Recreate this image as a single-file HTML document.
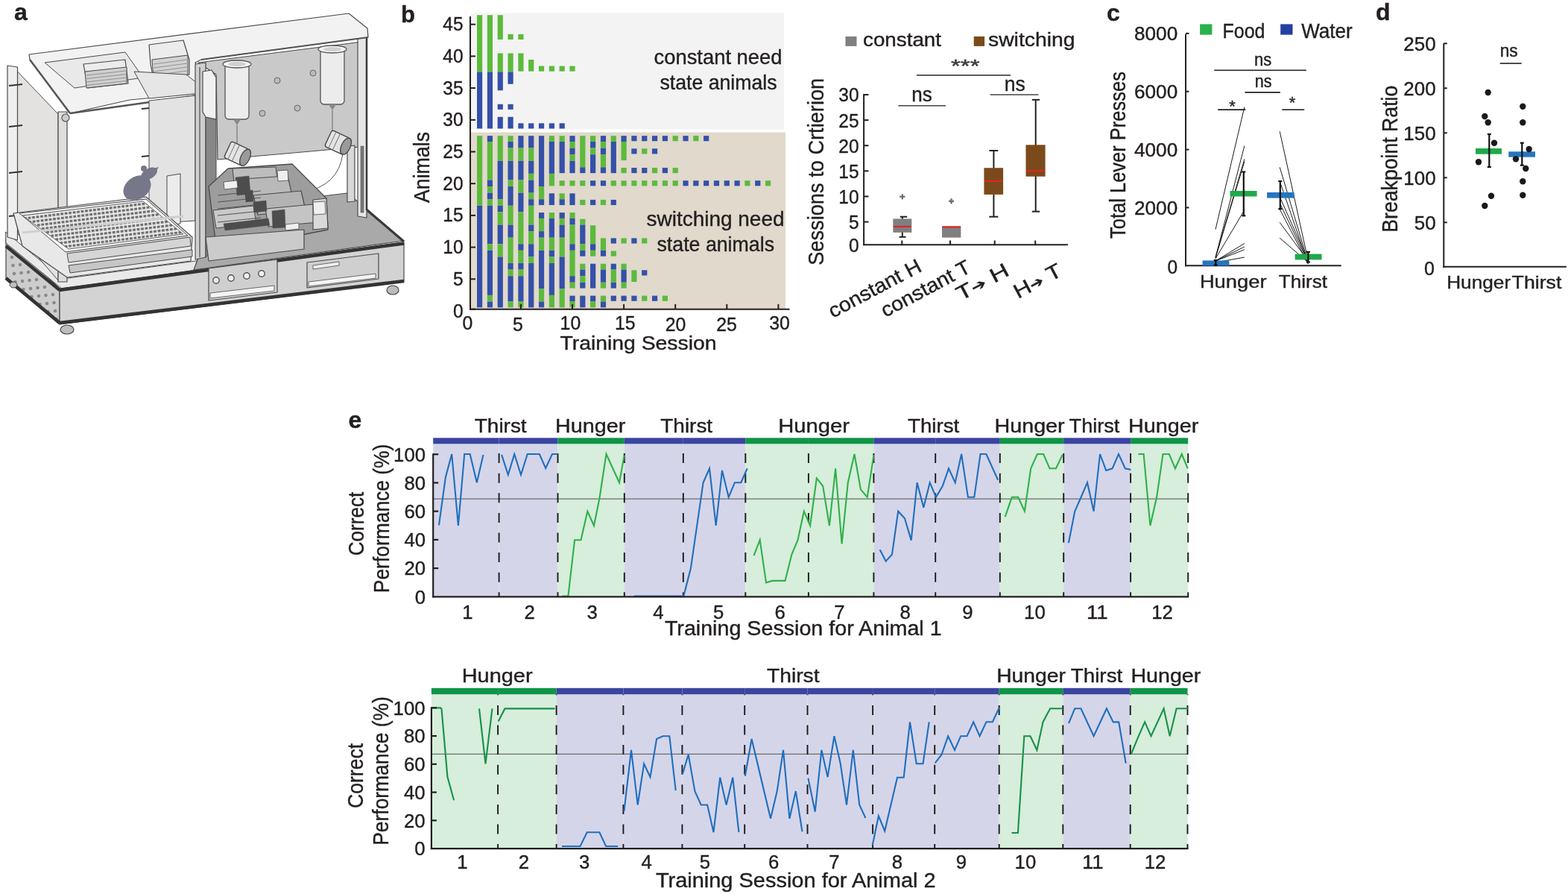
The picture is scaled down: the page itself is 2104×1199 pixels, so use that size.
<!DOCTYPE html>
<html><head><meta charset="utf-8"><title>Figure</title>
<style>html,body{margin:0;padding:0;background:#fff;overflow:hidden}svg{display:block}text{font-family:'Liberation Sans', Arial, sans-serif;stroke:#231f20;stroke-width:0.4px}</style>
</head><body>
<svg width="2104" height="1199" viewBox="0 0 2104 1199" font-family="'Liberation Sans', Arial, sans-serif" fill="#231f20">
<rect width="2104" height="1199" fill="#fff"/>
<text x="19" y="27.4" font-size="32" font-weight="bold">a</text>
<polygon points="8,318 80,387 80,435 8,375" fill="#cdcdcd" stroke="#4a4a4a" stroke-width="1.2" stroke-linejoin="round"/>
<circle cx="16" cy="345" r="2.3" fill="#8a8a8a"/>
<circle cx="17.5" cy="356" r="2.3" fill="#8a8a8a"/>
<circle cx="19" cy="367" r="2.3" fill="#8a8a8a"/>
<circle cx="20.5" cy="378" r="2.3" fill="#8a8a8a"/>
<circle cx="27" cy="355" r="2.3" fill="#8a8a8a"/>
<circle cx="28.5" cy="366" r="2.3" fill="#8a8a8a"/>
<circle cx="30" cy="377" r="2.3" fill="#8a8a8a"/>
<circle cx="31.5" cy="388" r="2.3" fill="#8a8a8a"/>
<circle cx="38" cy="365" r="2.3" fill="#8a8a8a"/>
<circle cx="39.5" cy="376" r="2.3" fill="#8a8a8a"/>
<circle cx="41" cy="387" r="2.3" fill="#8a8a8a"/>
<circle cx="42.5" cy="398" r="2.3" fill="#8a8a8a"/>
<circle cx="49" cy="375" r="2.3" fill="#8a8a8a"/>
<circle cx="50.5" cy="386" r="2.3" fill="#8a8a8a"/>
<circle cx="52" cy="397" r="2.3" fill="#8a8a8a"/>
<circle cx="53.5" cy="408" r="2.3" fill="#8a8a8a"/>
<circle cx="60" cy="385" r="2.3" fill="#8a8a8a"/>
<circle cx="61.5" cy="396" r="2.3" fill="#8a8a8a"/>
<circle cx="63" cy="407" r="2.3" fill="#8a8a8a"/>
<circle cx="64.5" cy="418" r="2.3" fill="#8a8a8a"/>
<circle cx="71" cy="395" r="2.3" fill="#8a8a8a"/>
<circle cx="72.5" cy="406" r="2.3" fill="#8a8a8a"/>
<circle cx="74" cy="417" r="2.3" fill="#8a8a8a"/>
<circle cx="75.5" cy="428" r="2.3" fill="#8a8a8a"/>
<polygon points="7.5,311 84,374 270,349 270,361 84,388 8,326" fill="#e9e9e9" stroke="#4a4a4a" stroke-width="1" stroke-linejoin="round"/>
<polygon points="80,387 542,325 542,378 80,435" fill="#d3d3d3" stroke="#4a4a4a" stroke-width="1.2" stroke-linejoin="round"/>
<line x1="8" y1="330" x2="80" y2="389" stroke="#333" stroke-width="4.5"/>
<line x1="80" y1="389" x2="542" y2="326.5" stroke="#333" stroke-width="4.5"/>
<line x1="8" y1="373" x2="80" y2="433" stroke="#333" stroke-width="4.5"/>
<line x1="80" y1="433" x2="542" y2="377" stroke="#333" stroke-width="4.5"/>
<polygon points="280,360 372,348 372,392 280,403" fill="#cfcfcf" stroke="#4a4a4a" stroke-width="1.2" stroke-linejoin="round"/>
<polygon points="282,393 368,383 368,390 282,400" fill="#f4f4f4" stroke="#4a4a4a" stroke-width="0.8" stroke-linejoin="round"/>
<circle cx="290" cy="376" r="4.2" fill="#f0f0f0" stroke="#555" stroke-width="1.4"/>
<circle cx="310" cy="373" r="4.2" fill="#f0f0f0" stroke="#555" stroke-width="1.4"/>
<circle cx="331" cy="370" r="4.2" fill="#f0f0f0" stroke="#555" stroke-width="1.4"/>
<circle cx="351" cy="367" r="4.2" fill="#f0f0f0" stroke="#555" stroke-width="1.4"/>
<polygon points="412,352 508,340 508,374 412,386" fill="#cfcfcf" stroke="#4a4a4a" stroke-width="1.2" stroke-linejoin="round"/>
<polygon points="414,378 504,367 504,373 414,384" fill="#f4f4f4" stroke="#4a4a4a" stroke-width="0.8" stroke-linejoin="round"/>
<polygon points="420,356 455,351 455,356 420,361" fill="#eeeeee" stroke="#4a4a4a" stroke-width="0.8" stroke-linejoin="round"/>
<ellipse cx="90" cy="442" rx="9" ry="6" fill="#bdbdbd" stroke="#444" stroke-width="1.2"/>
<ellipse cx="527" cy="389" rx="8" ry="6" fill="#bdbdbd" stroke="#444" stroke-width="1.2"/>
<ellipse cx="18" cy="382" rx="5" ry="4" fill="#bdbdbd" stroke="#444" stroke-width="1"/>
<polygon points="276,318 408,266 466,259 492,280 542,323 260,362" fill="#a9a9a9" stroke="#4a4a4a" stroke-width="1.2" stroke-linejoin="round"/>
<line x1="491.5" y1="281" x2="542" y2="324" stroke="#3a3a3a" stroke-width="3"/>
<polygon points="266,84 486,56 484,197 292,214 290,100" fill="#c9c9c9" stroke="#4a4a4a" stroke-width="1.2" stroke-linejoin="round"/>
<polygon points="480,50 492,48 492,292 480,290" fill="#e6e6e6" stroke="#4a4a4a" stroke-width="1.2" stroke-linejoin="round"/>
<polygon points="466,196 476,195 476,270 466,271" fill="#d8d8d8" stroke="#4a4a4a" stroke-width="1.2" stroke-linejoin="round"/>
<polygon points="484,196 488,196 488,285 484,285" fill="#777" stroke="#4a4a4a" stroke-width="0.5" stroke-linejoin="round"/>
<line x1="492" y1="50" x2="492" y2="282" stroke="#3a3a3a" stroke-width="2.5"/>
<rect x="302" y="84" width="32" height="76" rx="5" fill="#ececec" stroke="#555" stroke-width="1.3"/>
<ellipse cx="318.0" cy="86" rx="19.0" ry="5" fill="#f4f4f4" stroke="#555" stroke-width="1.3"/>
<ellipse cx="318.0" cy="86" rx="12.0" ry="3" fill="#d0d0d0"/>
<path d="M313.0,160 L318.0,168 L323.0,160 Z" fill="#888"/>
<rect x="430" y="64" width="32" height="76" rx="5" fill="#ececec" stroke="#555" stroke-width="1.3"/>
<ellipse cx="446.0" cy="66" rx="19.0" ry="5" fill="#f4f4f4" stroke="#555" stroke-width="1.3"/>
<ellipse cx="446.0" cy="66" rx="12.0" ry="3" fill="#d0d0d0"/>
<path d="M441.0,140 L446.0,148 L451.0,140 Z" fill="#888"/>
<line x1="318" y1="168" x2="318" y2="194" stroke="#666" stroke-width="1"/>
<line x1="446" y1="148" x2="446" y2="178" stroke="#666" stroke-width="1"/>
<g transform="translate(320,207) rotate(25)"><rect x="-16" y="-12" width="26" height="24" rx="3" fill="#e4e4e4" stroke="#444" stroke-width="1.3"/><ellipse cx="10" cy="0" rx="6" ry="12" fill="#9a9a9a" stroke="#444" stroke-width="1.3"/><line x1="-10" y1="-12" x2="-10" y2="12" stroke="#777" stroke-width="1"/><line x1="-4" y1="-12" x2="-4" y2="12" stroke="#777" stroke-width="1"/></g>
<g transform="translate(455,192) rotate(25)"><rect x="-16" y="-12" width="26" height="24" rx="3" fill="#e4e4e4" stroke="#444" stroke-width="1.3"/><ellipse cx="10" cy="0" rx="6" ry="12" fill="#9a9a9a" stroke="#444" stroke-width="1.3"/><line x1="-10" y1="-12" x2="-10" y2="12" stroke="#777" stroke-width="1"/><line x1="-4" y1="-12" x2="-4" y2="12" stroke="#777" stroke-width="1"/></g>
<path d="M460,205 Q455,250 405,258" fill="none" stroke="#555" stroke-width="1"/>
<circle cx="352" cy="152" r="4" fill="#bbb" stroke="#666" stroke-width="1"/>
<circle cx="399" cy="145" r="4" fill="#bbb" stroke="#666" stroke-width="1"/>
<circle cx="420" cy="98" r="4" fill="#bbb" stroke="#666" stroke-width="1"/>
<circle cx="372" cy="108" r="4" fill="#bbb" stroke="#666" stroke-width="1"/>
<polygon points="39,73 468,18 493,38 494,50 270,80 262,84 280,124 174,134 94,152 40,80" fill="#f2f2f2" stroke="#4a4a4a" stroke-width="1.2" stroke-linejoin="round"/>
<line x1="40" y1="80" x2="94" y2="152" stroke="#555" stroke-width="2.5"/>
<line x1="94" y1="152" x2="280" y2="126" stroke="#555" stroke-width="2.5"/>
<line x1="270" y1="80" x2="494" y2="50" stroke="#555" stroke-width="2.2"/>
<polygon points="60,84 168,70 192,104 100,118" fill="#e9e9e9" stroke="#4a4a4a" stroke-width="1" stroke-linejoin="round"/>
<polygon points="112,86 168,80 172,112 118,118" fill="#ececec" stroke="#4a4a4a" stroke-width="1.2" stroke-linejoin="round"/>
<polygon points="114,96 170,90 170,112 116,118" fill="#cfcfcf" stroke="#4a4a4a" stroke-width="1" stroke-linejoin="round"/>
<line x1="116" y1="101" x2="169" y2="95" stroke="#8a8a8a" stroke-width="0.9"/>
<line x1="116" y1="105.5" x2="169" y2="99.5" stroke="#8a8a8a" stroke-width="0.9"/>
<line x1="116" y1="110" x2="169" y2="104" stroke="#8a8a8a" stroke-width="0.9"/>
<line x1="116" y1="114.5" x2="169" y2="108.5" stroke="#8a8a8a" stroke-width="0.9"/>
<polygon points="200,60 246,54 254,80 254,100 206,106 202,86" fill="#ececec" stroke="#4a4a4a" stroke-width="1.2" stroke-linejoin="round"/>
<polygon points="204,80 252,74 252,100 206,106" fill="#d2d2d2" stroke="#4a4a4a" stroke-width="1" stroke-linejoin="round"/>
<line x1="206" y1="86" x2="251" y2="80" stroke="#8a8a8a" stroke-width="0.9"/>
<line x1="206" y1="91" x2="251" y2="85" stroke="#8a8a8a" stroke-width="0.9"/>
<line x1="206" y1="96" x2="251" y2="90" stroke="#8a8a8a" stroke-width="0.9"/>
<line x1="206" y1="101" x2="251" y2="95" stroke="#8a8a8a" stroke-width="0.9"/>
<polygon points="180,96 250,100 280,124 200,132" fill="#e6e6e6" stroke="#4a4a4a" stroke-width="1" stroke-linejoin="round"/>
<polygon points="23.5,96 78,153 78,376 23.5,313" fill="#e4e2e0" stroke="#4a4a4a" stroke-width="1" stroke-linejoin="round"/>
<polygon points="10,88 23.5,90 23.5,322 10,318" fill="#efefef" stroke="#4a4a4a" stroke-width="1.2" stroke-linejoin="round"/>
<polygon points="78,150 90,150 90,378 78,378" fill="#dedede" stroke="#4a4a4a" stroke-width="1.2" stroke-linejoin="round"/>
<circle cx="88" cy="158" r="5" fill="#ccc" stroke="#555" stroke-width="1.2"/>
<line x1="12" y1="115" x2="30" y2="113" stroke="#333" stroke-width="2"/>
<line x1="12" y1="170" x2="30" y2="168" stroke="#333" stroke-width="2"/>
<line x1="12" y1="232" x2="30" y2="230" stroke="#333" stroke-width="2"/>
<line x1="12" y1="290" x2="30" y2="288" stroke="#333" stroke-width="2"/>
<polygon points="200,135 262,128 262,296 200,300" fill="#e3e3e3" stroke="#4a4a4a" stroke-width="1" stroke-linejoin="round"/>
<polygon points="262,86 276,84 276,345 262,348" fill="#cfcfcf" stroke="#4a4a4a" stroke-width="1.2" stroke-linejoin="round"/>
<polygon points="276,157 290,160 290,330 276,345" fill="#878787" stroke="#4a4a4a" stroke-width="1" stroke-linejoin="round"/>
<polygon points="272,96 284,94 290,104 290,160 276,157 272,150" fill="#f0f0f0" stroke="#4a4a4a" stroke-width="1.2" stroke-linejoin="round"/>
<line x1="268" y1="90" x2="268" y2="345" stroke="#666" stroke-width="1.5"/>
<polygon points="224,236 242,233 242,300 224,302" fill="#ececec" stroke="#4a4a4a" stroke-width="1" stroke-linejoin="round"/>
<line x1="190" y1="146" x2="200" y2="145" stroke="#333" stroke-width="2"/>
<line x1="190" y1="210" x2="200" y2="209" stroke="#333" stroke-width="2"/>
<polygon points="306,226 392,220 438,266 440,308 390,318 290,330 280,250" fill="#9d9d9d" stroke="#4a4a4a" stroke-width="1.3" stroke-linejoin="round"/>
<polygon points="312,226 370,224 372,240 314,244" fill="#bdbdbd" stroke="#4a4a4a" stroke-width="1" stroke-linejoin="round"/>
<polygon points="326,240 386,236 392,262 330,266" fill="#b9b9b9" stroke="#4a4a4a" stroke-width="1.2" stroke-linejoin="round"/>
<polygon points="340,262 404,256 410,282 346,288" fill="#b3b3b3" stroke="#4a4a4a" stroke-width="1.2" stroke-linejoin="round"/>
<polygon points="356,280 420,274 428,298 360,304" fill="#c4c4c4" stroke="#4a4a4a" stroke-width="1.2" stroke-linejoin="round"/>
<polygon points="420,268 438,266 440,306 420,308" fill="#d9d9d9" stroke="#4a4a4a" stroke-width="1.2" stroke-linejoin="round"/>
<polygon points="286,282 340,276 344,300 290,306" fill="#c9c9c9" stroke="#4a4a4a" stroke-width="1" stroke-linejoin="round"/>
<line x1="292" y1="262" x2="350" y2="256" stroke="#555" stroke-width="1.2"/>
<line x1="292" y1="271" x2="350" y2="265" stroke="#555" stroke-width="1.2"/>
<line x1="292" y1="280" x2="350" y2="274" stroke="#555" stroke-width="1.2"/>
<line x1="292" y1="289" x2="350" y2="283" stroke="#555" stroke-width="1.2"/>
<line x1="292" y1="298" x2="350" y2="292" stroke="#555" stroke-width="1.2"/>
<polygon points="316,238 334,236 336,260 318,262" fill="#4d4d4d" stroke="#4a4a4a" stroke-width="0.5" stroke-linejoin="round"/>
<polygon points="329,256 339,255 340,270 330,271" fill="#4d4d4d" stroke="#4a4a4a" stroke-width="0.5" stroke-linejoin="round"/>
<polygon points="340,271 357,269 358,283 341,285" fill="#4d4d4d" stroke="#4a4a4a" stroke-width="0.5" stroke-linejoin="round"/>
<polygon points="365,283 382,281 383,305 366,306" fill="#4d4d4d" stroke="#4a4a4a" stroke-width="0.5" stroke-linejoin="round"/>
<polygon points="300,300 360,293 362,302 302,309" fill="#4d4d4d" stroke="#4a4a4a" stroke-width="0.5" stroke-linejoin="round"/>
<polygon points="372,229 386,228 387,242 373,243" fill="#efefef" stroke="#4a4a4a" stroke-width="0.8" stroke-linejoin="round"/>
<polygon points="420,271 436,270 437,287 421,288" fill="#efefef" stroke="#4a4a4a" stroke-width="0.8" stroke-linejoin="round"/>
<polygon points="383,301 401,299 401,307 383,309" fill="#efefef" stroke="#4a4a4a" stroke-width="0.8" stroke-linejoin="round"/>
<polygon points="300,244 318,242 319,252 301,254" fill="#efefef" stroke="#4a4a4a" stroke-width="0.8" stroke-linejoin="round"/>
<polygon points="276,318 408,308 408,334 280,350" fill="#cbcbcb" stroke="#4a4a4a" stroke-width="1.2" stroke-linejoin="round"/>
<polygon points="18,286 196,264 258,318 256,350 90,372 30,330" fill="#e8e8e8" stroke="#4a4a4a" stroke-width="1.2" stroke-linejoin="round"/>
<polygon points="26,286 196,267 252,316 88,338" fill="#f4f4f4" stroke="#4a4a4a" stroke-width="1" stroke-linejoin="round"/>
<defs><pattern id="grid" width="5.5" height="5.5" patternUnits="userSpaceOnUse" patternTransform="rotate(-7)"><rect width="5.5" height="5.5" fill="#ececec"/><rect x="1.6" y="1.8" width="3.9" height="3.2" fill="#6e6e6e"/></pattern></defs>
<polygon points="30,289 192,270 246,314 92,334" fill="url(#grid)" stroke="#4a4a4a" stroke-width="0.8" stroke-linejoin="round"/>
<line x1="30" y1="312" x2="246" y2="290" stroke="#cfcfcf" stroke-width="3"/>
<polygon points="90,340 255,318 256,330 92,352" fill="#d5d5d5" stroke="#4a4a4a" stroke-width="1" stroke-linejoin="round"/>
<polygon points="92,356 258,335 258,344 94,366" fill="#c6c6c6" stroke="#4a4a4a" stroke-width="1" stroke-linejoin="round"/>
<g fill="#77778a"><ellipse cx="184" cy="252" rx="20" ry="15" transform="rotate(-35 184 252)"/><ellipse cx="200" cy="233" rx="12" ry="7" transform="rotate(-30 200 233)"/><ellipse cx="193" cy="226" rx="4" ry="4"/><path d="M205,226 L213,224 L208,232 Z"/></g>
<rect x="632" y="17.6" width="420" height="155.8" fill="#f3f3f3"/>
<rect x="632" y="177.5" width="422" height="237" fill="#e0d9cc"/>
<rect x="640.02" y="20.24" width="7.2" height="76.12" fill="#5cba3c"/>
<rect x="640.02" y="96.35" width="7.2" height="76.12" fill="#3550a8"/>
<rect x="640.02" y="182.13" width="7.2" height="93.64" fill="#5cba3c"/>
<rect x="640.02" y="275.81" width="7.2" height="136.54" fill="#3550a8"/>
<rect x="653.84" y="20.24" width="7.2" height="76.12" fill="#5cba3c"/>
<rect x="653.84" y="96.35" width="7.2" height="76.12" fill="#3550a8"/>
<rect x="653.84" y="182.13" width="7.2" height="7.84" fill="#3550a8"/>
<rect x="653.84" y="190.01" width="7.2" height="51.44" fill="#5cba3c"/>
<rect x="653.84" y="241.49" width="7.2" height="8.54" fill="#3550a8"/>
<rect x="653.84" y="250.07" width="7.2" height="8.54" fill="#5cba3c"/>
<rect x="653.84" y="258.65" width="7.2" height="8.54" fill="#3550a8"/>
<rect x="653.84" y="267.23" width="7.2" height="8.54" fill="#5cba3c"/>
<rect x="653.84" y="275.81" width="7.2" height="51.44" fill="#3550a8"/>
<rect x="653.84" y="327.29" width="7.2" height="8.54" fill="#5cba3c"/>
<rect x="653.84" y="335.87" width="7.2" height="60.02" fill="#3550a8"/>
<rect x="653.84" y="395.93" width="7.2" height="8.54" fill="#5cba3c"/>
<rect x="653.84" y="404.51" width="7.2" height="7.84" fill="#3550a8"/>
<rect x="667.66" y="20.24" width="7.2" height="32.74" fill="#5cba3c"/>
<rect x="667.66" y="71.45" width="7.2" height="24.91" fill="#5cba3c"/>
<rect x="667.66" y="96.35" width="7.2" height="24.91" fill="#3550a8"/>
<rect x="667.66" y="139.72" width="7.2" height="7.14" fill="#3550a8"/>
<rect x="667.66" y="156.79" width="7.2" height="15.68" fill="#3550a8"/>
<rect x="667.66" y="182.13" width="7.2" height="33.58" fill="#5cba3c"/>
<rect x="667.66" y="215.75" width="7.2" height="51.44" fill="#3550a8"/>
<rect x="667.66" y="267.23" width="7.2" height="8.54" fill="#5cba3c"/>
<rect x="667.66" y="275.81" width="7.2" height="8.54" fill="#3550a8"/>
<rect x="667.66" y="284.39" width="7.2" height="17.12" fill="#5cba3c"/>
<rect x="667.66" y="301.55" width="7.2" height="25.7" fill="#3550a8"/>
<rect x="667.66" y="327.29" width="7.2" height="17.12" fill="#5cba3c"/>
<rect x="667.66" y="344.45" width="7.2" height="67.9" fill="#3550a8"/>
<rect x="681.48" y="45.84" width="7.2" height="7.14" fill="#5cba3c"/>
<rect x="681.48" y="71.45" width="7.2" height="24.91" fill="#5cba3c"/>
<rect x="681.48" y="96.35" width="7.2" height="16.37" fill="#3550a8"/>
<rect x="681.48" y="139.72" width="7.2" height="7.14" fill="#3550a8"/>
<rect x="681.48" y="156.79" width="7.2" height="15.68" fill="#3550a8"/>
<rect x="681.48" y="182.13" width="7.2" height="7.84" fill="#5cba3c"/>
<rect x="681.48" y="190.01" width="7.2" height="8.54" fill="#3550a8"/>
<rect x="681.48" y="198.59" width="7.2" height="17.12" fill="#5cba3c"/>
<rect x="681.48" y="215.75" width="7.2" height="25.7" fill="#3550a8"/>
<rect x="681.48" y="241.49" width="7.2" height="8.54" fill="#5cba3c"/>
<rect x="681.48" y="250.07" width="7.2" height="25.7" fill="#3550a8"/>
<rect x="681.48" y="275.81" width="7.2" height="25.7" fill="#5cba3c"/>
<rect x="681.48" y="301.55" width="7.2" height="17.12" fill="#3550a8"/>
<rect x="681.48" y="318.71" width="7.2" height="34.28" fill="#5cba3c"/>
<rect x="681.48" y="353.03" width="7.2" height="8.54" fill="#3550a8"/>
<rect x="681.48" y="361.61" width="7.2" height="8.54" fill="#5cba3c"/>
<rect x="681.48" y="370.19" width="7.2" height="34.28" fill="#3550a8"/>
<rect x="681.48" y="404.51" width="7.2" height="7.84" fill="#5cba3c"/>
<rect x="695.3" y="45.84" width="7.2" height="7.14" fill="#5cba3c"/>
<rect x="695.3" y="71.45" width="7.2" height="24.21" fill="#5cba3c"/>
<rect x="695.3" y="165.33" width="7.2" height="7.14" fill="#3550a8"/>
<rect x="695.3" y="182.13" width="7.2" height="16.42" fill="#3550a8"/>
<rect x="695.3" y="198.59" width="7.2" height="17.12" fill="#5cba3c"/>
<rect x="695.3" y="215.75" width="7.2" height="25.7" fill="#3550a8"/>
<rect x="695.3" y="241.49" width="7.2" height="17.12" fill="#5cba3c"/>
<rect x="695.3" y="258.65" width="7.2" height="25.7" fill="#3550a8"/>
<rect x="695.3" y="284.39" width="7.2" height="42.86" fill="#5cba3c"/>
<rect x="695.3" y="327.29" width="7.2" height="8.54" fill="#3550a8"/>
<rect x="695.3" y="335.87" width="7.2" height="17.12" fill="#5cba3c"/>
<rect x="695.3" y="353.03" width="7.2" height="8.54" fill="#3550a8"/>
<rect x="695.3" y="361.61" width="7.2" height="8.54" fill="#5cba3c"/>
<rect x="695.3" y="370.19" width="7.2" height="34.28" fill="#3550a8"/>
<rect x="695.3" y="404.51" width="7.2" height="7.84" fill="#5cba3c"/>
<rect x="709.12" y="79.98" width="7.2" height="15.67" fill="#5cba3c"/>
<rect x="709.12" y="165.33" width="7.2" height="7.14" fill="#3550a8"/>
<rect x="709.12" y="182.13" width="7.2" height="16.42" fill="#3550a8"/>
<rect x="709.12" y="198.59" width="7.2" height="17.12" fill="#5cba3c"/>
<rect x="709.12" y="215.75" width="7.2" height="17.12" fill="#3550a8"/>
<rect x="709.12" y="232.91" width="7.2" height="8.54" fill="#5cba3c"/>
<rect x="709.12" y="241.49" width="7.2" height="17.12" fill="#3550a8"/>
<rect x="709.12" y="258.65" width="7.2" height="8.54" fill="#5cba3c"/>
<rect x="709.12" y="267.23" width="7.2" height="8.54" fill="#3550a8"/>
<rect x="709.12" y="275.81" width="7.2" height="25.7" fill="#5cba3c"/>
<rect x="709.12" y="301.55" width="7.2" height="8.54" fill="#3550a8"/>
<rect x="709.12" y="310.13" width="7.2" height="17.12" fill="#5cba3c"/>
<rect x="709.12" y="327.29" width="7.2" height="17.12" fill="#3550a8"/>
<rect x="709.12" y="344.45" width="7.2" height="8.54" fill="#5cba3c"/>
<rect x="709.12" y="353.03" width="7.2" height="59.32" fill="#3550a8"/>
<rect x="722.94" y="88.52" width="7.2" height="7.14" fill="#5cba3c"/>
<rect x="722.94" y="165.33" width="7.2" height="7.14" fill="#3550a8"/>
<rect x="722.94" y="182.13" width="7.2" height="67.9" fill="#3550a8"/>
<rect x="722.94" y="250.07" width="7.2" height="17.12" fill="#5cba3c"/>
<rect x="722.94" y="267.23" width="7.2" height="7.84" fill="#3550a8"/>
<rect x="722.94" y="285.09" width="7.2" height="7.84" fill="#3550a8"/>
<rect x="722.94" y="292.97" width="7.2" height="17.12" fill="#5cba3c"/>
<rect x="722.94" y="310.13" width="7.2" height="8.54" fill="#3550a8"/>
<rect x="722.94" y="318.71" width="7.2" height="17.12" fill="#5cba3c"/>
<rect x="722.94" y="335.87" width="7.2" height="51.44" fill="#3550a8"/>
<rect x="722.94" y="387.35" width="7.2" height="17.12" fill="#5cba3c"/>
<rect x="722.94" y="404.51" width="7.2" height="7.84" fill="#3550a8"/>
<rect x="736.76" y="88.52" width="7.2" height="7.14" fill="#5cba3c"/>
<rect x="736.76" y="165.33" width="7.2" height="7.14" fill="#3550a8"/>
<rect x="736.76" y="182.13" width="7.2" height="7.84" fill="#5cba3c"/>
<rect x="736.76" y="190.01" width="7.2" height="42.86" fill="#3550a8"/>
<rect x="736.76" y="232.91" width="7.2" height="16.42" fill="#5cba3c"/>
<rect x="736.76" y="259.35" width="7.2" height="15.72" fill="#3550a8"/>
<rect x="736.76" y="285.09" width="7.2" height="7.84" fill="#5cba3c"/>
<rect x="736.76" y="292.97" width="7.2" height="25.7" fill="#3550a8"/>
<rect x="736.76" y="318.71" width="7.2" height="17.12" fill="#5cba3c"/>
<rect x="736.76" y="335.87" width="7.2" height="8.54" fill="#3550a8"/>
<rect x="736.76" y="344.45" width="7.2" height="8.54" fill="#5cba3c"/>
<rect x="736.76" y="353.03" width="7.2" height="42.86" fill="#3550a8"/>
<rect x="736.76" y="395.93" width="7.2" height="16.42" fill="#5cba3c"/>
<rect x="750.58" y="88.52" width="7.2" height="7.14" fill="#5cba3c"/>
<rect x="750.58" y="165.33" width="7.2" height="7.14" fill="#3550a8"/>
<rect x="750.58" y="182.13" width="7.2" height="7.84" fill="#5cba3c"/>
<rect x="750.58" y="190.01" width="7.2" height="42.16" fill="#3550a8"/>
<rect x="750.58" y="242.19" width="7.2" height="7.14" fill="#5cba3c"/>
<rect x="750.58" y="259.35" width="7.2" height="7.84" fill="#5cba3c"/>
<rect x="750.58" y="267.23" width="7.2" height="7.84" fill="#3550a8"/>
<rect x="750.58" y="285.09" width="7.2" height="7.84" fill="#3550a8"/>
<rect x="750.58" y="292.97" width="7.2" height="8.54" fill="#5cba3c"/>
<rect x="750.58" y="301.55" width="7.2" height="17.12" fill="#3550a8"/>
<rect x="750.58" y="318.71" width="7.2" height="25.7" fill="#5cba3c"/>
<rect x="750.58" y="344.45" width="7.2" height="42.86" fill="#3550a8"/>
<rect x="750.58" y="387.35" width="7.2" height="25" fill="#5cba3c"/>
<rect x="764.4" y="88.52" width="7.2" height="7.14" fill="#5cba3c"/>
<rect x="764.4" y="182.13" width="7.2" height="7.84" fill="#3550a8"/>
<rect x="764.4" y="190.01" width="7.2" height="8.54" fill="#5cba3c"/>
<rect x="764.4" y="198.59" width="7.2" height="8.54" fill="#3550a8"/>
<rect x="764.4" y="207.17" width="7.2" height="8.54" fill="#5cba3c"/>
<rect x="764.4" y="215.75" width="7.2" height="16.42" fill="#3550a8"/>
<rect x="764.4" y="242.19" width="7.2" height="7.14" fill="#5cba3c"/>
<rect x="764.4" y="259.35" width="7.2" height="15.72" fill="#3550a8"/>
<rect x="764.4" y="285.09" width="7.2" height="7.84" fill="#5cba3c"/>
<rect x="764.4" y="292.97" width="7.2" height="8.54" fill="#3550a8"/>
<rect x="764.4" y="301.55" width="7.2" height="25.7" fill="#5cba3c"/>
<rect x="764.4" y="327.29" width="7.2" height="8.54" fill="#3550a8"/>
<rect x="764.4" y="335.87" width="7.2" height="34.28" fill="#5cba3c"/>
<rect x="764.4" y="370.19" width="7.2" height="8.54" fill="#3550a8"/>
<rect x="764.4" y="378.77" width="7.2" height="7.84" fill="#5cba3c"/>
<rect x="764.4" y="396.63" width="7.2" height="7.84" fill="#3550a8"/>
<rect x="764.4" y="404.51" width="7.2" height="7.84" fill="#5cba3c"/>
<rect x="778.22" y="182.13" width="7.2" height="42.16" fill="#5cba3c"/>
<rect x="778.22" y="224.33" width="7.2" height="7.84" fill="#3550a8"/>
<rect x="778.22" y="242.19" width="7.2" height="7.14" fill="#5cba3c"/>
<rect x="778.22" y="267.93" width="7.2" height="7.14" fill="#5cba3c"/>
<rect x="778.22" y="293.67" width="7.2" height="7.84" fill="#5cba3c"/>
<rect x="778.22" y="301.55" width="7.2" height="25.7" fill="#3550a8"/>
<rect x="778.22" y="327.29" width="7.2" height="8.54" fill="#5cba3c"/>
<rect x="778.22" y="335.87" width="7.2" height="7.84" fill="#3550a8"/>
<rect x="778.22" y="353.73" width="7.2" height="7.84" fill="#5cba3c"/>
<rect x="778.22" y="361.61" width="7.2" height="8.54" fill="#3550a8"/>
<rect x="778.22" y="370.19" width="7.2" height="8.54" fill="#5cba3c"/>
<rect x="778.22" y="378.77" width="7.2" height="7.84" fill="#3550a8"/>
<rect x="778.22" y="396.63" width="7.2" height="15.72" fill="#3550a8"/>
<rect x="792.04" y="182.13" width="7.2" height="7.84" fill="#5cba3c"/>
<rect x="792.04" y="190.01" width="7.2" height="8.54" fill="#3550a8"/>
<rect x="792.04" y="198.59" width="7.2" height="8.54" fill="#5cba3c"/>
<rect x="792.04" y="207.17" width="7.2" height="25" fill="#3550a8"/>
<rect x="792.04" y="242.19" width="7.2" height="7.14" fill="#3550a8"/>
<rect x="792.04" y="267.93" width="7.2" height="7.14" fill="#3550a8"/>
<rect x="792.04" y="302.25" width="7.2" height="25" fill="#5cba3c"/>
<rect x="792.04" y="327.29" width="7.2" height="8.54" fill="#3550a8"/>
<rect x="792.04" y="335.87" width="7.2" height="7.84" fill="#5cba3c"/>
<rect x="792.04" y="353.73" width="7.2" height="32.88" fill="#3550a8"/>
<rect x="792.04" y="396.63" width="7.2" height="7.84" fill="#3550a8"/>
<rect x="792.04" y="404.51" width="7.2" height="7.84" fill="#5cba3c"/>
<rect x="805.86" y="182.13" width="7.2" height="7.84" fill="#3550a8"/>
<rect x="805.86" y="190.01" width="7.2" height="8.54" fill="#5cba3c"/>
<rect x="805.86" y="198.59" width="7.2" height="8.54" fill="#3550a8"/>
<rect x="805.86" y="207.17" width="7.2" height="17.12" fill="#5cba3c"/>
<rect x="805.86" y="224.33" width="7.2" height="7.84" fill="#3550a8"/>
<rect x="805.86" y="242.19" width="7.2" height="7.14" fill="#3550a8"/>
<rect x="805.86" y="267.93" width="7.2" height="7.14" fill="#5cba3c"/>
<rect x="805.86" y="319.41" width="7.2" height="16.42" fill="#5cba3c"/>
<rect x="805.86" y="335.87" width="7.2" height="7.84" fill="#3550a8"/>
<rect x="805.86" y="353.73" width="7.2" height="7.84" fill="#5cba3c"/>
<rect x="805.86" y="361.61" width="7.2" height="17.12" fill="#3550a8"/>
<rect x="805.86" y="378.77" width="7.2" height="7.84" fill="#5cba3c"/>
<rect x="805.86" y="396.63" width="7.2" height="7.84" fill="#5cba3c"/>
<rect x="805.86" y="404.51" width="7.2" height="7.84" fill="#3550a8"/>
<rect x="819.68" y="182.13" width="7.2" height="7.84" fill="#5cba3c"/>
<rect x="819.68" y="190.01" width="7.2" height="42.16" fill="#3550a8"/>
<rect x="819.68" y="242.19" width="7.2" height="7.14" fill="#5cba3c"/>
<rect x="819.68" y="267.93" width="7.2" height="7.14" fill="#3550a8"/>
<rect x="819.68" y="319.41" width="7.2" height="7.14" fill="#3550a8"/>
<rect x="819.68" y="336.57" width="7.2" height="7.14" fill="#5cba3c"/>
<rect x="819.68" y="353.73" width="7.2" height="7.84" fill="#3550a8"/>
<rect x="819.68" y="361.61" width="7.2" height="17.12" fill="#5cba3c"/>
<rect x="819.68" y="378.77" width="7.2" height="7.84" fill="#3550a8"/>
<rect x="819.68" y="396.63" width="7.2" height="7.14" fill="#3550a8"/>
<rect x="833.5" y="182.13" width="7.2" height="7.84" fill="#3550a8"/>
<rect x="833.5" y="190.01" width="7.2" height="25" fill="#5cba3c"/>
<rect x="833.5" y="225.03" width="7.2" height="7.14" fill="#5cba3c"/>
<rect x="833.5" y="242.19" width="7.2" height="7.14" fill="#5cba3c"/>
<rect x="833.5" y="319.41" width="7.2" height="7.14" fill="#5cba3c"/>
<rect x="833.5" y="353.73" width="7.2" height="7.84" fill="#5cba3c"/>
<rect x="833.5" y="361.61" width="7.2" height="17.12" fill="#3550a8"/>
<rect x="833.5" y="378.77" width="7.2" height="7.84" fill="#5cba3c"/>
<rect x="833.5" y="396.63" width="7.2" height="7.14" fill="#3550a8"/>
<rect x="847.32" y="182.13" width="7.2" height="7.14" fill="#3550a8"/>
<rect x="847.32" y="199.29" width="7.2" height="7.14" fill="#3550a8"/>
<rect x="847.32" y="225.03" width="7.2" height="7.14" fill="#3550a8"/>
<rect x="847.32" y="242.19" width="7.2" height="7.14" fill="#5cba3c"/>
<rect x="847.32" y="319.41" width="7.2" height="7.14" fill="#3550a8"/>
<rect x="847.32" y="362.31" width="7.2" height="15.72" fill="#5cba3c"/>
<rect x="847.32" y="396.63" width="7.2" height="7.14" fill="#3550a8"/>
<rect x="861.14" y="182.13" width="7.2" height="7.14" fill="#3550a8"/>
<rect x="861.14" y="199.29" width="7.2" height="7.14" fill="#5cba3c"/>
<rect x="861.14" y="225.03" width="7.2" height="7.14" fill="#3550a8"/>
<rect x="861.14" y="242.19" width="7.2" height="7.14" fill="#5cba3c"/>
<rect x="861.14" y="319.41" width="7.2" height="7.14" fill="#5cba3c"/>
<rect x="861.14" y="362.31" width="7.2" height="7.14" fill="#3550a8"/>
<rect x="861.14" y="396.63" width="7.2" height="7.14" fill="#5cba3c"/>
<rect x="874.96" y="182.13" width="7.2" height="7.14" fill="#3550a8"/>
<rect x="874.96" y="199.29" width="7.2" height="7.14" fill="#3550a8"/>
<rect x="874.96" y="225.03" width="7.2" height="7.14" fill="#5cba3c"/>
<rect x="874.96" y="242.19" width="7.2" height="7.14" fill="#5cba3c"/>
<rect x="874.96" y="396.63" width="7.2" height="7.14" fill="#3550a8"/>
<rect x="888.78" y="182.13" width="7.2" height="7.14" fill="#3550a8"/>
<rect x="888.78" y="225.03" width="7.2" height="7.14" fill="#3550a8"/>
<rect x="888.78" y="242.19" width="7.2" height="7.14" fill="#5cba3c"/>
<rect x="888.78" y="396.63" width="7.2" height="7.14" fill="#5cba3c"/>
<rect x="902.6" y="182.13" width="7.2" height="7.14" fill="#5cba3c"/>
<rect x="902.6" y="225.03" width="7.2" height="7.14" fill="#5cba3c"/>
<rect x="902.6" y="242.19" width="7.2" height="7.14" fill="#5cba3c"/>
<rect x="916.42" y="182.13" width="7.2" height="7.14" fill="#3550a8"/>
<rect x="916.42" y="242.19" width="7.2" height="7.14" fill="#3550a8"/>
<rect x="930.24" y="182.13" width="7.2" height="7.14" fill="#5cba3c"/>
<rect x="930.24" y="242.19" width="7.2" height="7.14" fill="#3550a8"/>
<rect x="944.06" y="182.13" width="7.2" height="7.14" fill="#3550a8"/>
<rect x="944.06" y="242.19" width="7.2" height="7.14" fill="#3550a8"/>
<rect x="957.88" y="242.19" width="7.2" height="7.14" fill="#3550a8"/>
<rect x="971.7" y="242.19" width="7.2" height="7.14" fill="#3550a8"/>
<rect x="985.52" y="242.19" width="7.2" height="7.14" fill="#3550a8"/>
<rect x="999.34" y="242.19" width="7.2" height="7.14" fill="#5cba3c"/>
<rect x="1013.16" y="242.19" width="7.2" height="7.14" fill="#3550a8"/>
<rect x="1026.98" y="242.19" width="7.2" height="7.14" fill="#5cba3c"/>
<line x1="631" y1="22" x2="631" y2="415.5" stroke="#231f20" stroke-width="2"/>
<line x1="630" y1="414.7" x2="1059.5" y2="414.7" stroke="#231f20" stroke-width="2"/>
<line x1="631" y1="414.7" x2="638" y2="414.7" stroke="#231f20" stroke-width="2"/>
<line x1="631" y1="374.3" x2="638" y2="374.3" stroke="#231f20" stroke-width="2"/>
<line x1="631" y1="331.6" x2="638" y2="331.6" stroke="#231f20" stroke-width="2"/>
<line x1="631" y1="288.9" x2="638" y2="288.9" stroke="#231f20" stroke-width="2"/>
<line x1="631" y1="246.2" x2="638" y2="246.2" stroke="#231f20" stroke-width="2"/>
<line x1="631" y1="203.5" x2="638" y2="203.5" stroke="#231f20" stroke-width="2"/>
<line x1="631" y1="160.8" x2="638" y2="160.8" stroke="#231f20" stroke-width="2"/>
<line x1="631" y1="118.1" x2="638" y2="118.1" stroke="#231f20" stroke-width="2"/>
<line x1="631" y1="75.4" x2="638" y2="75.4" stroke="#231f20" stroke-width="2"/>
<line x1="631" y1="32.7" x2="638" y2="32.7" stroke="#231f20" stroke-width="2"/>
<line x1="698.9" y1="414.7" x2="698.9" y2="408" stroke="#231f20" stroke-width="2"/>
<line x1="768" y1="414.7" x2="768" y2="408" stroke="#231f20" stroke-width="2"/>
<line x1="837.1" y1="414.7" x2="837.1" y2="408" stroke="#231f20" stroke-width="2"/>
<line x1="906.2" y1="414.7" x2="906.2" y2="408" stroke="#231f20" stroke-width="2"/>
<line x1="975.3" y1="414.7" x2="975.3" y2="408" stroke="#231f20" stroke-width="2"/>
<line x1="1044.4" y1="414.7" x2="1044.4" y2="408" stroke="#231f20" stroke-width="2"/>
<text x="621.5" y="425.5" font-size="25" textLength="13.6" lengthAdjust="spacingAndGlyphs" text-anchor="end">0</text>
<text x="621.5" y="382.8" font-size="25" textLength="13.6" lengthAdjust="spacingAndGlyphs" text-anchor="end">5</text>
<text x="621.5" y="340.1" font-size="25" textLength="27.2" lengthAdjust="spacingAndGlyphs" text-anchor="end">10</text>
<text x="621.5" y="297.4" font-size="25" textLength="27.2" lengthAdjust="spacingAndGlyphs" text-anchor="end">15</text>
<text x="621.5" y="254.7" font-size="25" textLength="27.2" lengthAdjust="spacingAndGlyphs" text-anchor="end">20</text>
<text x="621.5" y="212" font-size="25" textLength="27.2" lengthAdjust="spacingAndGlyphs" text-anchor="end">25</text>
<text x="621.5" y="169.3" font-size="25" textLength="27.2" lengthAdjust="spacingAndGlyphs" text-anchor="end">30</text>
<text x="621.5" y="126.6" font-size="25" textLength="27.2" lengthAdjust="spacingAndGlyphs" text-anchor="end">35</text>
<text x="621.5" y="83.9" font-size="25" textLength="27.2" lengthAdjust="spacingAndGlyphs" text-anchor="end">40</text>
<text x="621.5" y="41.2" font-size="25" textLength="27.2" lengthAdjust="spacingAndGlyphs" text-anchor="end">45</text>
<text x="627.5" y="441.5" font-size="25" textLength="13.8" lengthAdjust="spacingAndGlyphs" text-anchor="middle">0</text>
<text x="694.8" y="443.5" font-size="25" textLength="13.8" lengthAdjust="spacingAndGlyphs" text-anchor="middle">5</text>
<text x="765.4" y="441.5" font-size="25" textLength="27.6" lengthAdjust="spacingAndGlyphs" text-anchor="middle">10</text>
<text x="838.7" y="442" font-size="25" textLength="27.6" lengthAdjust="spacingAndGlyphs" text-anchor="middle">15</text>
<text x="906.5" y="444" font-size="25" textLength="27.6" lengthAdjust="spacingAndGlyphs" text-anchor="middle">20</text>
<text x="975" y="443.5" font-size="25" textLength="27.6" lengthAdjust="spacingAndGlyphs" text-anchor="middle">25</text>
<text x="1046" y="442" font-size="25" textLength="27.6" lengthAdjust="spacingAndGlyphs" text-anchor="middle">30</text>
<text x="751.5" y="468.8" font-size="26" textLength="210" lengthAdjust="spacingAndGlyphs">Training Session</text>
<text x="576" y="272" font-size="30" textLength="95" lengthAdjust="spacingAndGlyphs" transform="rotate(-90 576 272)">Animals</text>
<text x="877.5" y="86" font-size="28" textLength="172" lengthAdjust="spacingAndGlyphs">constant need</text>
<text x="885.5" y="120" font-size="28" textLength="157" lengthAdjust="spacingAndGlyphs">state animals</text>
<text x="867.5" y="302.5" font-size="28" textLength="185" lengthAdjust="spacingAndGlyphs">switching need</text>
<text x="881.5" y="337" font-size="28" textLength="157.5" lengthAdjust="spacingAndGlyphs">state animals</text>
<text x="538" y="30" font-size="31" font-weight="bold">b</text>
<line x1="1159.1" y1="126" x2="1159.1" y2="329.3" stroke="#231f20" stroke-width="2"/>
<line x1="1158.1" y1="328.3" x2="1432.9" y2="328.3" stroke="#231f20" stroke-width="2"/>
<line x1="1159.1" y1="297.58" x2="1165.5" y2="297.58" stroke="#231f20" stroke-width="2"/>
<line x1="1159.1" y1="263.46" x2="1165.5" y2="263.46" stroke="#231f20" stroke-width="2"/>
<line x1="1159.1" y1="229.34" x2="1165.5" y2="229.34" stroke="#231f20" stroke-width="2"/>
<line x1="1159.1" y1="195.22" x2="1165.5" y2="195.22" stroke="#231f20" stroke-width="2"/>
<line x1="1159.1" y1="161.1" x2="1165.5" y2="161.1" stroke="#231f20" stroke-width="2"/>
<line x1="1159.1" y1="126.98" x2="1165.5" y2="126.98" stroke="#231f20" stroke-width="2"/>
<line x1="1210.3" y1="328.3" x2="1210.3" y2="322.5" stroke="#231f20" stroke-width="2"/>
<line x1="1275" y1="328.3" x2="1275" y2="322.5" stroke="#231f20" stroke-width="2"/>
<line x1="1334.7" y1="328.3" x2="1334.7" y2="322.5" stroke="#231f20" stroke-width="2"/>
<line x1="1389.2" y1="328.3" x2="1389.2" y2="322.5" stroke="#231f20" stroke-width="2"/>
<text x="1152.5" y="337.5" font-size="25.5" textLength="13.6" lengthAdjust="spacingAndGlyphs" text-anchor="end">0</text>
<text x="1152.5" y="307.08" font-size="25.5" textLength="13.6" lengthAdjust="spacingAndGlyphs" text-anchor="end">5</text>
<text x="1152.5" y="272.96" font-size="25.5" textLength="27.2" lengthAdjust="spacingAndGlyphs" text-anchor="end">10</text>
<text x="1152.5" y="238.84" font-size="25.5" textLength="27.2" lengthAdjust="spacingAndGlyphs" text-anchor="end">15</text>
<text x="1152.5" y="204.72" font-size="25.5" textLength="27.2" lengthAdjust="spacingAndGlyphs" text-anchor="end">20</text>
<text x="1152.5" y="170.6" font-size="25.5" textLength="27.2" lengthAdjust="spacingAndGlyphs" text-anchor="end">25</text>
<text x="1152.5" y="136.48" font-size="25.5" textLength="27.2" lengthAdjust="spacingAndGlyphs" text-anchor="end">30</text>
<text x="1105.4" y="355.8" font-size="30" textLength="251" lengthAdjust="spacingAndGlyphs" transform="rotate(-90 1105.4 355.8)">Sessions to Crtierion</text>
<line x1="1210.8" y1="290.7" x2="1210.8" y2="317.8" stroke="#231f20" stroke-width="2"/>
<line x1="1207.7" y1="290.7" x2="1217.2" y2="290.7" stroke="#231f20" stroke-width="2"/>
<line x1="1206.5" y1="317.8" x2="1215.5" y2="317.8" stroke="#231f20" stroke-width="2"/>
<rect x="1198.3" y="293.4" width="25" height="18.4" fill="#808080"/>
<line x1="1199" y1="303.9" x2="1222.5" y2="303.9" stroke="#e0242a" stroke-width="2.2"/>
<text x="1210.8" y="267.5" font-size="13" text-anchor="middle" font-weight="bold" fill="#777">+</text>
<rect x="1264" y="303.5" width="25.4" height="15.1" fill="#808080"/>
<line x1="1264.5" y1="304.4" x2="1289" y2="304.4" stroke="#e0242a" stroke-width="2.2"/>
<text x="1276.5" y="274.1" font-size="13" text-anchor="middle" font-weight="bold" fill="#777">+</text>
<line x1="1333.4" y1="202" x2="1333.4" y2="290.7" stroke="#231f20" stroke-width="2"/>
<line x1="1327.3" y1="202" x2="1339.3" y2="202" stroke="#231f20" stroke-width="2"/>
<line x1="1327.3" y1="290.7" x2="1339.3" y2="290.7" stroke="#231f20" stroke-width="2"/>
<rect x="1320.4" y="225.2" width="25.7" height="35.7" fill="#7b4a1a"/>
<line x1="1321" y1="243" x2="1345.5" y2="243" stroke="#e0242a" stroke-width="2.2"/>
<line x1="1389.7" y1="133.8" x2="1389.7" y2="283.7" stroke="#231f20" stroke-width="2"/>
<line x1="1384.8" y1="133.8" x2="1395.2" y2="133.8" stroke="#231f20" stroke-width="2"/>
<line x1="1384.8" y1="283.7" x2="1395.2" y2="283.7" stroke="#231f20" stroke-width="2"/>
<rect x="1376.5" y="194.3" width="26.1" height="42.4" fill="#7b4a1a"/>
<line x1="1377" y1="229.2" x2="1402" y2="229.2" stroke="#e0242a" stroke-width="2.2"/>
<line x1="1205.3" y1="141.7" x2="1269.2" y2="141.7" stroke="#444" stroke-width="1.6"/>
<text x="1223.3" y="136.1" font-size="28" textLength="27.5" lengthAdjust="spacingAndGlyphs">ns</text>
<line x1="1328.6" y1="127" x2="1393.4" y2="127" stroke="#444" stroke-width="1.6"/>
<text x="1347.7" y="122" font-size="28" textLength="28" lengthAdjust="spacingAndGlyphs">ns</text>
<line x1="1229.9" y1="100.9" x2="1356" y2="100.9" stroke="#444" stroke-width="1.6"/>
<text x="1276" y="97" font-size="24" textLength="38.5" lengthAdjust="spacingAndGlyphs" fill="#444">***</text>
<rect x="1134.5" y="48.9" width="15" height="13" fill="#808080"/>
<text x="1158" y="61.9" font-size="25" textLength="105" lengthAdjust="spacingAndGlyphs">constant</text>
<rect x="1306.7" y="48.9" width="14.4" height="13" fill="#7b4a1a"/>
<text x="1326" y="61.9" font-size="25" textLength="116.5" lengthAdjust="spacingAndGlyphs">switching</text>
<text x="1117.5" y="427" font-size="27" textLength="137" lengthAdjust="spacingAndGlyphs" transform="rotate(-28 1117.5 427)">constant H</text>
<text x="1188" y="426" font-size="27" textLength="132" lengthAdjust="spacingAndGlyphs" transform="rotate(-28 1188 426)">constant T</text>
<text x="1289" y="404" font-size="27" textLength="76" lengthAdjust="spacingAndGlyphs" transform="rotate(-28 1289 404)">T<tspan font-family="DejaVu Sans" font-size="19" dy="-1">➔</tspan><tspan dy="1"> H</tspan></text>
<text x="1366" y="401" font-size="27" textLength="69" lengthAdjust="spacingAndGlyphs" transform="rotate(-28 1366 401)">H<tspan font-family="DejaVu Sans" font-size="19" dy="-1">➔</tspan><tspan dy="1"> T</tspan></text>
<text x="1485" y="27.5" font-size="32" font-weight="bold">c</text>
<line x1="1591" y1="45.7" x2="1591" y2="357.3" stroke="#231f20" stroke-width="2"/>
<line x1="1590" y1="356.2" x2="1799.7" y2="356.2" stroke="#231f20" stroke-width="2"/>
<line x1="1591" y1="278.44" x2="1595.5" y2="278.44" stroke="#231f20" stroke-width="2"/>
<line x1="1591" y1="200.58" x2="1595.5" y2="200.58" stroke="#231f20" stroke-width="2"/>
<line x1="1591" y1="122.72" x2="1595.5" y2="122.72" stroke="#231f20" stroke-width="2"/>
<line x1="1591" y1="44.86" x2="1595.5" y2="44.86" stroke="#231f20" stroke-width="2"/>
<text x="1580.2" y="367" font-size="25.5" textLength="13.6" lengthAdjust="spacingAndGlyphs" text-anchor="end">0</text>
<text x="1580.2" y="287.64" font-size="25.5" textLength="58.2" lengthAdjust="spacingAndGlyphs" text-anchor="end">2000</text>
<text x="1580.2" y="209.78" font-size="25.5" textLength="58.2" lengthAdjust="spacingAndGlyphs" text-anchor="end">4000</text>
<text x="1580.2" y="131.92" font-size="25.5" textLength="58.2" lengthAdjust="spacingAndGlyphs" text-anchor="end">6000</text>
<text x="1580.2" y="54.06" font-size="25.5" textLength="58.2" lengthAdjust="spacingAndGlyphs" text-anchor="end">8000</text>
<text x="1510" y="320" font-size="29" textLength="224" lengthAdjust="spacingAndGlyphs" transform="rotate(-90 1510 320)">Total Lever Presses</text>
<text x="1609.9" y="385.8" font-size="24" textLength="89.6" lengthAdjust="spacingAndGlyphs">Hunger</text>
<text x="1715.8" y="385.8" font-size="24" textLength="65.2" lengthAdjust="spacingAndGlyphs">Thirst</text>
<rect x="1610.1" y="32.4" width="16.3" height="14.2" fill="#2bb24c"/>
<text x="1640.5" y="50.7" font-size="28" textLength="57" lengthAdjust="spacingAndGlyphs">Food</text>
<rect x="1718.2" y="32.4" width="16.3" height="14.2" fill="#2440a0"/>
<text x="1746.2" y="50.7" font-size="28" textLength="68.5" lengthAdjust="spacingAndGlyphs">Water</text>
<line x1="1631" y1="307.7" x2="1669.9" y2="143.4" stroke="#1a1a1a" stroke-width="1"/>
<line x1="1631" y1="345.2" x2="1669.9" y2="195.5" stroke="#1a1a1a" stroke-width="1"/>
<line x1="1631" y1="345.2" x2="1669.9" y2="213.4" stroke="#1a1a1a" stroke-width="1"/>
<line x1="1631" y1="346" x2="1669.9" y2="216.5" stroke="#1a1a1a" stroke-width="1"/>
<line x1="1631" y1="347" x2="1669.9" y2="281.6" stroke="#1a1a1a" stroke-width="1"/>
<line x1="1631" y1="350" x2="1669.9" y2="326.5" stroke="#1a1a1a" stroke-width="1"/>
<line x1="1631" y1="350" x2="1669.9" y2="331" stroke="#1a1a1a" stroke-width="1"/>
<line x1="1631" y1="350" x2="1669.9" y2="334.8" stroke="#1a1a1a" stroke-width="1"/>
<line x1="1631" y1="352" x2="1669.9" y2="345" stroke="#1a1a1a" stroke-width="1"/>
<line x1="1717.2" y1="176.3" x2="1755.4" y2="350" stroke="#1a1a1a" stroke-width="1"/>
<line x1="1717.2" y1="224.3" x2="1755.4" y2="352" stroke="#1a1a1a" stroke-width="1"/>
<line x1="1717.2" y1="243" x2="1755.4" y2="354" stroke="#1a1a1a" stroke-width="1"/>
<line x1="1717.2" y1="263.9" x2="1755.4" y2="350" stroke="#1a1a1a" stroke-width="1"/>
<line x1="1717.2" y1="272.2" x2="1755.4" y2="352" stroke="#1a1a1a" stroke-width="1"/>
<line x1="1717.2" y1="280.6" x2="1755.4" y2="354" stroke="#1a1a1a" stroke-width="1"/>
<line x1="1717.2" y1="298.3" x2="1755.4" y2="350" stroke="#1a1a1a" stroke-width="1"/>
<line x1="1717.2" y1="319.2" x2="1755.4" y2="352" stroke="#1a1a1a" stroke-width="1"/>
<rect x="1613.6" y="349.4" width="35.8" height="7" fill="#2575c0"/>
<rect x="1650.5" y="256" width="36.1" height="7.5" fill="#1fa94b"/>
<rect x="1700.1" y="258" width="36.5" height="7.6" fill="#2575c0"/>
<rect x="1737.6" y="340.6" width="35.9" height="7.8" fill="#1fa94b"/>
<line x1="1668.8" y1="230.5" x2="1668.8" y2="289.3" stroke="#111" stroke-width="2.2"/>
<line x1="1666.3" y1="230.5" x2="1671.3" y2="230.5" stroke="#111" stroke-width="2.2"/>
<line x1="1666.3" y1="289.3" x2="1671.3" y2="289.3" stroke="#111" stroke-width="2.2"/>
<line x1="1717.8" y1="243" x2="1717.8" y2="280.2" stroke="#111" stroke-width="2.2"/>
<line x1="1715.3" y1="243" x2="1720.3" y2="243" stroke="#111" stroke-width="2.2"/>
<line x1="1715.3" y1="280.2" x2="1720.3" y2="280.2" stroke="#111" stroke-width="2.2"/>
<line x1="1631.3" y1="349" x2="1631.3" y2="355.5" stroke="#111" stroke-width="2.2"/>
<line x1="1628.8" y1="349" x2="1633.8" y2="349" stroke="#111" stroke-width="2.2"/>
<line x1="1628.8" y1="355.5" x2="1633.8" y2="355.5" stroke="#111" stroke-width="2.2"/>
<line x1="1755.4" y1="337.9" x2="1755.4" y2="351.5" stroke="#111" stroke-width="2.2"/>
<line x1="1752.9" y1="337.9" x2="1757.9" y2="337.9" stroke="#111" stroke-width="2.2"/>
<line x1="1752.9" y1="351.5" x2="1757.9" y2="351.5" stroke="#111" stroke-width="2.2"/>
<line x1="1629.2" y1="94.3" x2="1752.8" y2="94.3" stroke="#231f20" stroke-width="1.6"/>
<text x="1683" y="87.8" font-size="23.5" textLength="23.3" lengthAdjust="spacingAndGlyphs">ns</text>
<line x1="1670.5" y1="123.9" x2="1717.9" y2="123.9" stroke="#231f20" stroke-width="1.6"/>
<text x="1683.8" y="117.3" font-size="23.5" textLength="22.8" lengthAdjust="spacingAndGlyphs">ns</text>
<line x1="1634.2" y1="147.1" x2="1671.3" y2="147.1" stroke="#231f20" stroke-width="1.6"/>
<text x="1653.6" y="149.5" font-size="22" text-anchor="middle" fill="#333">*</text>
<line x1="1720.3" y1="147.1" x2="1750.2" y2="147.1" stroke="#231f20" stroke-width="1.6"/>
<text x="1734.1" y="144.5" font-size="22" text-anchor="middle" fill="#333">*</text>
<text x="1846" y="26.7" font-size="32" font-weight="bold">d</text>
<line x1="1937.3" y1="58.3" x2="1937.3" y2="359" stroke="#231f20" stroke-width="2"/>
<line x1="1936.3" y1="357.8" x2="2101.9" y2="357.8" stroke="#231f20" stroke-width="2"/>
<line x1="1937.3" y1="298.3" x2="1941.8" y2="298.3" stroke="#231f20" stroke-width="2"/>
<line x1="1937.3" y1="238.3" x2="1941.8" y2="238.3" stroke="#231f20" stroke-width="2"/>
<line x1="1937.3" y1="178.3" x2="1941.8" y2="178.3" stroke="#231f20" stroke-width="2"/>
<line x1="1937.3" y1="118.3" x2="1941.8" y2="118.3" stroke="#231f20" stroke-width="2"/>
<line x1="1937.3" y1="58.3" x2="1941.8" y2="58.3" stroke="#231f20" stroke-width="2"/>
<text x="1924.8" y="368.5" font-size="25.5" textLength="13.9" lengthAdjust="spacingAndGlyphs" text-anchor="end">0</text>
<text x="1926.7" y="307.5" font-size="25.5" textLength="28.9" lengthAdjust="spacingAndGlyphs" text-anchor="end">50</text>
<text x="1926.7" y="247.5" font-size="25.5" textLength="43.35" lengthAdjust="spacingAndGlyphs" text-anchor="end">100</text>
<text x="1926.7" y="187.5" font-size="25.5" textLength="43.35" lengthAdjust="spacingAndGlyphs" text-anchor="end">150</text>
<text x="1926.7" y="127.5" font-size="25.5" textLength="43.35" lengthAdjust="spacingAndGlyphs" text-anchor="end">200</text>
<text x="1926.7" y="67.5" font-size="25.5" textLength="43.35" lengthAdjust="spacingAndGlyphs" text-anchor="end">250</text>
<text x="1875" y="311.7" font-size="29" textLength="197" lengthAdjust="spacingAndGlyphs" transform="rotate(-90 1875 311.7)">Breakpoint Ratio</text>
<text x="1941.2" y="386.9" font-size="24" textLength="86" lengthAdjust="spacingAndGlyphs">Hunger</text>
<text x="2028.6" y="386.9" font-size="24" textLength="66.7" lengthAdjust="spacingAndGlyphs">Thirst</text>
<rect x="1980" y="199" width="35" height="7.7" fill="#1fa94b"/>
<rect x="2024.3" y="203.3" width="35.7" height="7.4" fill="#2575c0"/>
<circle cx="1996.7" cy="124" r="4.2" fill="#1a1a1a"/>
<circle cx="1992.3" cy="156" r="4.2" fill="#1a1a1a"/>
<circle cx="1996.7" cy="164.3" r="4.2" fill="#1a1a1a"/>
<circle cx="2005" cy="191.7" r="4.2" fill="#1a1a1a"/>
<circle cx="1984" cy="217.3" r="4.2" fill="#1a1a1a"/>
<circle cx="2001" cy="262.7" r="4.2" fill="#1a1a1a"/>
<circle cx="1992.3" cy="276" r="4.2" fill="#1a1a1a"/>
<circle cx="2043.3" cy="142.7" r="4.2" fill="#1a1a1a"/>
<circle cx="2043.3" cy="164.3" r="4.2" fill="#1a1a1a"/>
<circle cx="2051.7" cy="200" r="4.2" fill="#1a1a1a"/>
<circle cx="2034" cy="213.3" r="4.2" fill="#1a1a1a"/>
<circle cx="2047.3" cy="226" r="4.2" fill="#1a1a1a"/>
<circle cx="2043.3" cy="243.3" r="4.2" fill="#1a1a1a"/>
<circle cx="2043.3" cy="261.7" r="4.2" fill="#1a1a1a"/>
<line x1="1998.3" y1="180" x2="1998.3" y2="224" stroke="#111" stroke-width="2.2"/>
<line x1="1995.8" y1="180" x2="2000.8" y2="180" stroke="#111" stroke-width="2.2"/>
<line x1="1995.8" y1="224" x2="2000.8" y2="224" stroke="#111" stroke-width="2.2"/>
<line x1="2042.3" y1="191.7" x2="2042.3" y2="221.7" stroke="#111" stroke-width="2.2"/>
<line x1="2039.8" y1="191.7" x2="2044.8" y2="191.7" stroke="#111" stroke-width="2.2"/>
<line x1="2039.8" y1="221.7" x2="2044.8" y2="221.7" stroke="#111" stroke-width="2.2"/>
<line x1="2012.7" y1="85" x2="2041.7" y2="85" stroke="#231f20" stroke-width="1.6"/>
<text x="2012.7" y="75.5" font-size="23.5" textLength="24" lengthAdjust="spacingAndGlyphs">ns</text>
<text x="467.5" y="574" font-size="32" font-weight="bold">e</text>
<rect x="581.2" y="595.3" width="88.4" height="205" fill="#d5d5ea"/>
<rect x="581.2" y="587.3" width="88.4" height="8" fill="#3a45a0"/>
<rect x="669.6" y="595.3" width="78.9" height="205" fill="#d5d5ea"/>
<rect x="669.6" y="587.3" width="78.9" height="8" fill="#3a45a0"/>
<rect x="748.5" y="595.3" width="89.3" height="205" fill="#d6eedb"/>
<rect x="748.5" y="587.3" width="89.3" height="8" fill="#0f9447"/>
<rect x="837.8" y="595.3" width="79" height="205" fill="#d5d5ea"/>
<rect x="837.8" y="587.3" width="79" height="8" fill="#3a45a0"/>
<rect x="916.8" y="595.3" width="83.5" height="205" fill="#d5d5ea"/>
<rect x="916.8" y="587.3" width="83.5" height="8" fill="#3a45a0"/>
<rect x="1000.3" y="595.3" width="84.6" height="205" fill="#d6eedb"/>
<rect x="1000.3" y="587.3" width="84.6" height="8" fill="#0f9447"/>
<rect x="1084.9" y="595.3" width="87.5" height="205" fill="#d6eedb"/>
<rect x="1084.9" y="587.3" width="87.5" height="8" fill="#0f9447"/>
<rect x="1172.4" y="595.3" width="82.8" height="205" fill="#d5d5ea"/>
<rect x="1172.4" y="587.3" width="82.8" height="8" fill="#3a45a0"/>
<rect x="1255.2" y="595.3" width="86.6" height="205" fill="#d5d5ea"/>
<rect x="1255.2" y="587.3" width="86.6" height="8" fill="#3a45a0"/>
<rect x="1341.8" y="595.3" width="85.4" height="205" fill="#d6eedb"/>
<rect x="1341.8" y="587.3" width="85.4" height="8" fill="#0f9447"/>
<rect x="1427.2" y="595.3" width="89.9" height="205" fill="#d5d5ea"/>
<rect x="1427.2" y="587.3" width="89.9" height="8" fill="#3a45a0"/>
<rect x="1517.1" y="595.3" width="77.1" height="205" fill="#d6eedb"/>
<rect x="1517.1" y="587.3" width="77.1" height="8" fill="#0f9447"/>
<line x1="581.2" y1="669.1" x2="1594.2" y2="669.1" stroke="#6d6d6d" stroke-width="1.3"/>
<line x1="669.6" y1="800.3" x2="669.6" y2="595.3" stroke="#1a1a1a" stroke-width="1.9" stroke-dasharray="13 13.6" stroke-dashoffset="7"/>
<line x1="748.5" y1="800.3" x2="748.5" y2="595.3" stroke="#1a1a1a" stroke-width="1.9" stroke-dasharray="13 13.6" stroke-dashoffset="7"/>
<line x1="837.8" y1="800.3" x2="837.8" y2="595.3" stroke="#1a1a1a" stroke-width="1.9" stroke-dasharray="13 13.6" stroke-dashoffset="7"/>
<line x1="916.8" y1="800.3" x2="916.8" y2="595.3" stroke="#1a1a1a" stroke-width="1.9" stroke-dasharray="13 13.6" stroke-dashoffset="7"/>
<line x1="1000.3" y1="800.3" x2="1000.3" y2="595.3" stroke="#1a1a1a" stroke-width="1.9" stroke-dasharray="13 13.6" stroke-dashoffset="7"/>
<line x1="1084.9" y1="800.3" x2="1084.9" y2="595.3" stroke="#1a1a1a" stroke-width="1.9" stroke-dasharray="13 13.6" stroke-dashoffset="7"/>
<line x1="1172.4" y1="800.3" x2="1172.4" y2="595.3" stroke="#1a1a1a" stroke-width="1.9" stroke-dasharray="13 13.6" stroke-dashoffset="7"/>
<line x1="1255.2" y1="800.3" x2="1255.2" y2="595.3" stroke="#1a1a1a" stroke-width="1.9" stroke-dasharray="13 13.6" stroke-dashoffset="7"/>
<line x1="1341.8" y1="800.3" x2="1341.8" y2="595.3" stroke="#1a1a1a" stroke-width="1.9" stroke-dasharray="13 13.6" stroke-dashoffset="7"/>
<line x1="1427.2" y1="800.3" x2="1427.2" y2="595.3" stroke="#1a1a1a" stroke-width="1.9" stroke-dasharray="13 13.6" stroke-dashoffset="7"/>
<line x1="1517.1" y1="800.3" x2="1517.1" y2="595.3" stroke="#1a1a1a" stroke-width="1.9" stroke-dasharray="13 13.6" stroke-dashoffset="7"/>
<line x1="1594.2" y1="800.3" x2="1594.2" y2="595.3" stroke="#1a1a1a" stroke-width="1.9" stroke-dasharray="13 13.6" stroke-dashoffset="7"/>
<polyline points="589,704.4 597.8,640.5 606.2,609 614.9,705 623.2,609 630.7,609 639.8,647.2 648.5,609.9" fill="none" stroke="#1f6fbd" stroke-width="2.1" stroke-linejoin="miter"/>
<polyline points="673.1,609.9 681.8,636.7 690.2,609 699,636.7 707.7,609 723.8,609 732.2,627.9 741,609 748.4,609" fill="none" stroke="#1f6fbd" stroke-width="2.1" stroke-linejoin="miter"/>
<polyline points="754.5,799.6 762.4,799.6 771.1,724.2 779.5,724.2 788.3,685.7 797,705 804.4,668.5 813.5,609 831,647.2 837.7,610.8" fill="none" stroke="#2fb04a" stroke-width="2.1" stroke-linejoin="miter"/>
<polyline points="850.8,799.6 917.3,799.6 926.9,762.2 943.6,647.2 952,628.3 960.7,705 969,630.9 977.7,666.8 985.9,647.2 994.3,647.2 1002.7,628.3" fill="none" stroke="#1f6fbd" stroke-width="2.1" stroke-linejoin="miter"/>
<polyline points="1011.5,745.2 1019.7,724.2 1028,781.5 1036.4,778.9 1053.5,778.9 1062.3,743.8 1070.5,724.2 1078.8,685.7 1087.1,705 1095.8,641.4 1104.2,651.9 1112.9,705 1121.1,628.3 1129.6,729.5 1137.8,647.2 1146.5,609 1154.9,656.3 1163.7,666.8 1172.5,609.9" fill="none" stroke="#2fb04a" stroke-width="2.1" stroke-linejoin="miter"/>
<polyline points="1180.7,737.2 1188.6,752.6 1197,743.5 1205.2,685.7 1214,695.2 1222.7,724.6 1230.6,647.2 1239.3,680.8 1247.7,647.2 1256,666.8 1264.8,651.9 1273,628.3 1281.7,647.2 1290.1,609 1298.9,666.8 1307.3,666.8 1315.5,609 1323.4,609 1339.1,643.7" fill="none" stroke="#1f6fbd" stroke-width="2.1" stroke-linejoin="miter"/>
<polyline points="1348.7,693.1 1357.8,666.8 1366.2,666.8 1374.9,685.7 1383.2,628.3 1391.9,609 1400.1,609 1408.5,628.3 1417,628.3 1425.7,609.9" fill="none" stroke="#2fb04a" stroke-width="2.1" stroke-linejoin="miter"/>
<polyline points="1433.9,728.1 1442.2,685.7 1450.6,666.8 1459,647.2 1467.6,685.7 1476,609 1484.2,630.9 1492.6,628.3 1501,609 1509.8,628.3 1517.5,630" fill="none" stroke="#1f6fbd" stroke-width="2.1" stroke-linejoin="miter"/>
<polyline points="1527.3,609 1534.6,609 1543.4,705 1552.1,666.8 1560.5,609 1568.8,609 1577,628.3 1585.7,609 1593.8,628.3" fill="none" stroke="#2fb04a" stroke-width="2.1" stroke-linejoin="miter"/>
<line x1="581.2" y1="608.3" x2="581.2" y2="801.3" stroke="#231f20" stroke-width="2.2"/>
<line x1="580.2" y1="800.3" x2="1595.2" y2="800.3" stroke="#231f20" stroke-width="2.2"/>
<line x1="581.2" y1="762.1" x2="588.2" y2="762.1" stroke="#231f20" stroke-width="2.2"/>
<line x1="581.2" y1="723.9" x2="588.2" y2="723.9" stroke="#231f20" stroke-width="2.2"/>
<line x1="581.2" y1="685.7" x2="588.2" y2="685.7" stroke="#231f20" stroke-width="2.2"/>
<line x1="581.2" y1="647.5" x2="588.2" y2="647.5" stroke="#231f20" stroke-width="2.2"/>
<line x1="581.2" y1="609.3" x2="588.2" y2="609.3" stroke="#231f20" stroke-width="2.2"/>
<text x="571" y="809.6" font-size="26" textLength="14.3" lengthAdjust="spacingAndGlyphs" text-anchor="end">0</text>
<text x="571" y="771.4" font-size="26" textLength="28.6" lengthAdjust="spacingAndGlyphs" text-anchor="end">20</text>
<text x="571" y="733.2" font-size="26" textLength="28.6" lengthAdjust="spacingAndGlyphs" text-anchor="end">40</text>
<text x="571" y="695" font-size="26" textLength="28.6" lengthAdjust="spacingAndGlyphs" text-anchor="end">60</text>
<text x="571" y="656.8" font-size="26" textLength="28.6" lengthAdjust="spacingAndGlyphs" text-anchor="end">80</text>
<text x="571" y="618.6" font-size="26" textLength="42.9" lengthAdjust="spacingAndGlyphs" text-anchor="end">100</text>
<text x="627.4" y="829.5" font-size="26" textLength="14.3" lengthAdjust="spacingAndGlyphs" text-anchor="middle">1</text>
<text x="710.7" y="829.5" font-size="26" textLength="14.3" lengthAdjust="spacingAndGlyphs" text-anchor="middle">2</text>
<text x="794.6" y="829.5" font-size="26" textLength="14.3" lengthAdjust="spacingAndGlyphs" text-anchor="middle">3</text>
<text x="883.4" y="829.5" font-size="26" textLength="14.3" lengthAdjust="spacingAndGlyphs" text-anchor="middle">4</text>
<text x="964.2" y="829.5" font-size="26" textLength="14.3" lengthAdjust="spacingAndGlyphs" text-anchor="middle">5</text>
<text x="1046.6" y="829.5" font-size="26" textLength="14.3" lengthAdjust="spacingAndGlyphs" text-anchor="middle">6</text>
<text x="1126.4" y="829.5" font-size="26" textLength="14.3" lengthAdjust="spacingAndGlyphs" text-anchor="middle">7</text>
<text x="1214.7" y="829.5" font-size="26" textLength="14.3" lengthAdjust="spacingAndGlyphs" text-anchor="middle">8</text>
<text x="1298.5" y="829.5" font-size="26" textLength="14.3" lengthAdjust="spacingAndGlyphs" text-anchor="middle">9</text>
<text x="1388.4" y="829.5" font-size="26" textLength="28.6" lengthAdjust="spacingAndGlyphs" text-anchor="middle">10</text>
<text x="1472.2" y="829.5" font-size="26" textLength="28.6" lengthAdjust="spacingAndGlyphs" text-anchor="middle">11</text>
<text x="1559.5" y="829.5" font-size="26" textLength="28.6" lengthAdjust="spacingAndGlyphs" text-anchor="middle">12</text>
<text x="636.8" y="580" font-size="26" textLength="69.8" lengthAdjust="spacingAndGlyphs">Thirst</text>
<text x="745" y="580" font-size="26" textLength="94.2" lengthAdjust="spacingAndGlyphs">Hunger</text>
<text x="886.3" y="580" font-size="26" textLength="69.8" lengthAdjust="spacingAndGlyphs">Thirst</text>
<text x="1044.2" y="580" font-size="26" textLength="95.8" lengthAdjust="spacingAndGlyphs">Hunger</text>
<text x="1218" y="580" font-size="26" textLength="69.3" lengthAdjust="spacingAndGlyphs">Thirst</text>
<text x="1334.4" y="580" font-size="26" textLength="94.3" lengthAdjust="spacingAndGlyphs">Hunger</text>
<text x="1434.6" y="580" font-size="26" textLength="67.8" lengthAdjust="spacingAndGlyphs">Thirst</text>
<text x="1514" y="580" font-size="26" textLength="94.4" lengthAdjust="spacingAndGlyphs">Hunger</text>
<text x="891.9" y="851.5" font-size="27" textLength="371.7" lengthAdjust="spacingAndGlyphs">Training Session for Animal 1</text>
<text x="488.5" y="745.3" font-size="30" textLength="85.5" lengthAdjust="spacingAndGlyphs" transform="rotate(-90 488.5 745.3)">Correct</text>
<text x="522.5" y="795.2" font-size="30" textLength="199.6" lengthAdjust="spacingAndGlyphs" transform="rotate(-90 522.5 795.2)">Performance (%)</text>
<rect x="578.9" y="931.2" width="89.2" height="206.9" fill="#d6eedb"/>
<rect x="578.9" y="922.8" width="89.2" height="8.4" fill="#0f9447"/>
<rect x="668.1" y="931.2" width="78.5" height="206.9" fill="#d6eedb"/>
<rect x="668.1" y="922.8" width="78.5" height="8.4" fill="#0f9447"/>
<rect x="746.6" y="931.2" width="89.8" height="206.9" fill="#d5d5ea"/>
<rect x="746.6" y="922.8" width="89.8" height="8.4" fill="#3a45a0"/>
<rect x="836.4" y="931.2" width="79" height="206.9" fill="#d5d5ea"/>
<rect x="836.4" y="922.8" width="79" height="8.4" fill="#3a45a0"/>
<rect x="915.4" y="931.2" width="83.8" height="206.9" fill="#d5d5ea"/>
<rect x="915.4" y="922.8" width="83.8" height="8.4" fill="#3a45a0"/>
<rect x="999.2" y="931.2" width="84.3" height="206.9" fill="#d5d5ea"/>
<rect x="999.2" y="922.8" width="84.3" height="8.4" fill="#3a45a0"/>
<rect x="1083.5" y="931.2" width="87.6" height="206.9" fill="#d5d5ea"/>
<rect x="1083.5" y="922.8" width="87.6" height="8.4" fill="#3a45a0"/>
<rect x="1171.1" y="931.2" width="83.1" height="206.9" fill="#d5d5ea"/>
<rect x="1171.1" y="922.8" width="83.1" height="8.4" fill="#3a45a0"/>
<rect x="1254.2" y="931.2" width="86.5" height="206.9" fill="#d5d5ea"/>
<rect x="1254.2" y="922.8" width="86.5" height="8.4" fill="#3a45a0"/>
<rect x="1340.7" y="931.2" width="85.6" height="206.9" fill="#d6eedb"/>
<rect x="1340.7" y="922.8" width="85.6" height="8.4" fill="#0f9447"/>
<rect x="1426.3" y="931.2" width="90.4" height="206.9" fill="#d5d5ea"/>
<rect x="1426.3" y="922.8" width="90.4" height="8.4" fill="#3a45a0"/>
<rect x="1516.7" y="931.2" width="76.8" height="206.9" fill="#d6eedb"/>
<rect x="1516.7" y="922.8" width="76.8" height="8.4" fill="#0f9447"/>
<line x1="578.9" y1="1011.3" x2="1593.5" y2="1011.3" stroke="#6d6d6d" stroke-width="1.3"/>
<line x1="668.1" y1="1138.1" x2="668.1" y2="931.2" stroke="#1a1a1a" stroke-width="1.9" stroke-dasharray="13 13.6" stroke-dashoffset="7"/>
<line x1="746.6" y1="1138.1" x2="746.6" y2="931.2" stroke="#1a1a1a" stroke-width="1.9" stroke-dasharray="13 13.6" stroke-dashoffset="7"/>
<line x1="836.4" y1="1138.1" x2="836.4" y2="931.2" stroke="#1a1a1a" stroke-width="1.9" stroke-dasharray="13 13.6" stroke-dashoffset="7"/>
<line x1="915.4" y1="1138.1" x2="915.4" y2="931.2" stroke="#1a1a1a" stroke-width="1.9" stroke-dasharray="13 13.6" stroke-dashoffset="7"/>
<line x1="999.2" y1="1138.1" x2="999.2" y2="931.2" stroke="#1a1a1a" stroke-width="1.9" stroke-dasharray="13 13.6" stroke-dashoffset="7"/>
<line x1="1083.5" y1="1138.1" x2="1083.5" y2="931.2" stroke="#1a1a1a" stroke-width="1.9" stroke-dasharray="13 13.6" stroke-dashoffset="7"/>
<line x1="1171.1" y1="1138.1" x2="1171.1" y2="931.2" stroke="#1a1a1a" stroke-width="1.9" stroke-dasharray="13 13.6" stroke-dashoffset="7"/>
<line x1="1254.2" y1="1138.1" x2="1254.2" y2="931.2" stroke="#1a1a1a" stroke-width="1.9" stroke-dasharray="13 13.6" stroke-dashoffset="7"/>
<line x1="1340.7" y1="1138.1" x2="1340.7" y2="931.2" stroke="#1a1a1a" stroke-width="1.9" stroke-dasharray="13 13.6" stroke-dashoffset="7"/>
<line x1="1426.3" y1="1138.1" x2="1426.3" y2="931.2" stroke="#1a1a1a" stroke-width="1.9" stroke-dasharray="13 13.6" stroke-dashoffset="7"/>
<line x1="1516.7" y1="1138.1" x2="1516.7" y2="931.2" stroke="#1a1a1a" stroke-width="1.9" stroke-dasharray="13 13.6" stroke-dashoffset="7"/>
<line x1="1593.5" y1="1138.1" x2="1593.5" y2="931.2" stroke="#1a1a1a" stroke-width="1.9" stroke-dasharray="13 13.6" stroke-dashoffset="7"/>
<polyline points="578.9,949.4 591.1,949.4 592.5,950.8 600.4,1041.8 609.1,1073.3" fill="none" stroke="#17904a" stroke-width="2.1" stroke-linejoin="miter"/>
<polyline points="643,950.4 651.5,1024.3 660.5,950.4" fill="none" stroke="#17904a" stroke-width="2.1" stroke-linejoin="miter"/>
<polyline points="668.7,967.4 677.4,950.4 744.5,950.4" fill="none" stroke="#17904a" stroke-width="2.1" stroke-linejoin="miter"/>
<polyline points="754,1135 778.5,1135 787.7,1116.2 804.4,1116.2 813.1,1135 829.2,1135" fill="none" stroke="#1f6fbd" stroke-width="2.1" stroke-linejoin="miter"/>
<polyline points="837.4,1088.2 847,1005.9 855.7,1079.5 864.1,1024.3 872.5,1042.2 881.1,991 889.5,987.2 898.3,987.2 906.7,1060.2" fill="none" stroke="#1f6fbd" stroke-width="2.1" stroke-linejoin="miter"/>
<polyline points="915.8,1038.3 923.7,1012 932.4,1061.1 940.7,1079.5 949.1,1079.5 957.5,1116.2 966.2,1042.7 974.6,1079.5 983.2,1042.7 991.4,1116.2" fill="none" stroke="#1f6fbd" stroke-width="2.1" stroke-linejoin="miter"/>
<polyline points="999.8,1040.9 1008.6,991 1034,1097.8 1042.7,1061.1 1051,1005.9 1059.4,1097.8 1067.8,1061.1 1076.5,1115.4" fill="none" stroke="#1f6fbd" stroke-width="2.1" stroke-linejoin="miter"/>
<polyline points="1084.4,1043.6 1093.7,1088.7 1102.4,1005.9 1110.6,1042.2 1119.4,987.2 1127.6,1023.4 1136,1079.5 1144.8,1005.9 1153.2,1079.5 1161.4,1097" fill="none" stroke="#1f6fbd" stroke-width="2.1" stroke-linejoin="miter"/>
<polyline points="1170.7,1133.7 1178.9,1094.3 1187.2,1114.5 1204,1042.7 1212.7,1042.7 1221,968.3 1229.7,1024.3 1238.5,1024.3 1246.7,968.3" fill="none" stroke="#1f6fbd" stroke-width="2.1" stroke-linejoin="miter"/>
<polyline points="1254.7,1023.4 1263.5,1012 1272.2,987.2 1281,1005.9 1289.2,987.2 1297.5,987.2 1306.2,968.3 1314.6,987.2 1323.4,968.3 1331.8,968.3 1340.9,949" fill="none" stroke="#1f6fbd" stroke-width="2.1" stroke-linejoin="miter"/>
<polyline points="1357.5,1117 1365.9,1117 1374.3,987.2 1382.5,987.2 1391.4,1006 1399.5,968.4 1409.1,950.3 1425.6,950.3" fill="none" stroke="#17904a" stroke-width="2.1" stroke-linejoin="miter"/>
<polyline points="1434,970.2 1442.2,950.3 1450.4,950.3 1467.6,987.2 1484.9,950.3 1493.7,968.4 1501.2,968.4 1510.7,1023.7" fill="none" stroke="#1f6fbd" stroke-width="2.1" stroke-linejoin="miter"/>
<polyline points="1518,1010.9 1527.3,988.3 1536.1,968.4 1544.5,987.2 1561.6,950.3 1569.7,987.2 1578.6,950.3 1594.1,950.3" fill="none" stroke="#17904a" stroke-width="2.1" stroke-linejoin="miter"/>
<line x1="578.9" y1="948.3" x2="578.9" y2="1139.1" stroke="#231f20" stroke-width="2.2"/>
<line x1="577.9" y1="1138.1" x2="1594.5" y2="1138.1" stroke="#231f20" stroke-width="2.2"/>
<line x1="578.9" y1="1100.34" x2="585.9" y2="1100.34" stroke="#231f20" stroke-width="2.2"/>
<line x1="578.9" y1="1062.58" x2="585.9" y2="1062.58" stroke="#231f20" stroke-width="2.2"/>
<line x1="578.9" y1="1024.82" x2="585.9" y2="1024.82" stroke="#231f20" stroke-width="2.2"/>
<line x1="578.9" y1="987.06" x2="585.9" y2="987.06" stroke="#231f20" stroke-width="2.2"/>
<line x1="578.9" y1="949.3" x2="585.9" y2="949.3" stroke="#231f20" stroke-width="2.2"/>
<text x="570.5" y="1147.4" font-size="26" textLength="14.3" lengthAdjust="spacingAndGlyphs" text-anchor="end">0</text>
<text x="570.5" y="1109.64" font-size="26" textLength="28.6" lengthAdjust="spacingAndGlyphs" text-anchor="end">20</text>
<text x="570.5" y="1071.88" font-size="26" textLength="28.6" lengthAdjust="spacingAndGlyphs" text-anchor="end">40</text>
<text x="570.5" y="1034.12" font-size="26" textLength="28.6" lengthAdjust="spacingAndGlyphs" text-anchor="end">60</text>
<text x="570.5" y="996.36" font-size="26" textLength="28.6" lengthAdjust="spacingAndGlyphs" text-anchor="end">80</text>
<text x="570.5" y="958.6" font-size="26" textLength="42.9" lengthAdjust="spacingAndGlyphs" text-anchor="end">100</text>
<text x="620.5" y="1164.5" font-size="26" textLength="14.3" lengthAdjust="spacingAndGlyphs" text-anchor="middle">1</text>
<text x="702.9" y="1164.5" font-size="26" textLength="14.3" lengthAdjust="spacingAndGlyphs" text-anchor="middle">2</text>
<text x="784.2" y="1164.5" font-size="26" textLength="14.3" lengthAdjust="spacingAndGlyphs" text-anchor="middle">3</text>
<text x="867.7" y="1164.5" font-size="26" textLength="14.3" lengthAdjust="spacingAndGlyphs" text-anchor="middle">4</text>
<text x="946" y="1164.5" font-size="26" textLength="14.3" lengthAdjust="spacingAndGlyphs" text-anchor="middle">5</text>
<text x="1038.1" y="1164.5" font-size="26" textLength="14.3" lengthAdjust="spacingAndGlyphs" text-anchor="middle">6</text>
<text x="1119.4" y="1164.5" font-size="26" textLength="14.3" lengthAdjust="spacingAndGlyphs" text-anchor="middle">7</text>
<text x="1203.9" y="1164.5" font-size="26" textLength="14.3" lengthAdjust="spacingAndGlyphs" text-anchor="middle">8</text>
<text x="1289.9" y="1164.5" font-size="26" textLength="14.3" lengthAdjust="spacingAndGlyphs" text-anchor="middle">9</text>
<text x="1375.9" y="1164.5" font-size="26" textLength="28.6" lengthAdjust="spacingAndGlyphs" text-anchor="middle">10</text>
<text x="1466.2" y="1164.5" font-size="26" textLength="28.6" lengthAdjust="spacingAndGlyphs" text-anchor="middle">11</text>
<text x="1550" y="1164.5" font-size="26" textLength="28.6" lengthAdjust="spacingAndGlyphs" text-anchor="middle">12</text>
<text x="619.7" y="915.4" font-size="26" textLength="94.9" lengthAdjust="spacingAndGlyphs">Hunger</text>
<text x="1029" y="915.4" font-size="26" textLength="70.5" lengthAdjust="spacingAndGlyphs">Thirst</text>
<text x="1337.2" y="915.4" font-size="26" textLength="92.8" lengthAdjust="spacingAndGlyphs">Hunger</text>
<text x="1436.7" y="915.4" font-size="26" textLength="69.6" lengthAdjust="spacingAndGlyphs">Thirst</text>
<text x="1517.4" y="915.4" font-size="26" textLength="93.9" lengthAdjust="spacingAndGlyphs">Hunger</text>
<text x="879.9" y="1190.3" font-size="27" textLength="375.7" lengthAdjust="spacingAndGlyphs">Training Session for Animal 2</text>
<text x="487" y="1083.9" font-size="30" textLength="86.9" lengthAdjust="spacingAndGlyphs" transform="rotate(-90 487 1083.9)">Correct</text>
<text x="521.5" y="1133.8" font-size="30" textLength="199.6" lengthAdjust="spacingAndGlyphs" transform="rotate(-90 521.5 1133.8)">Performance (%)</text>
</svg>
</body></html>
